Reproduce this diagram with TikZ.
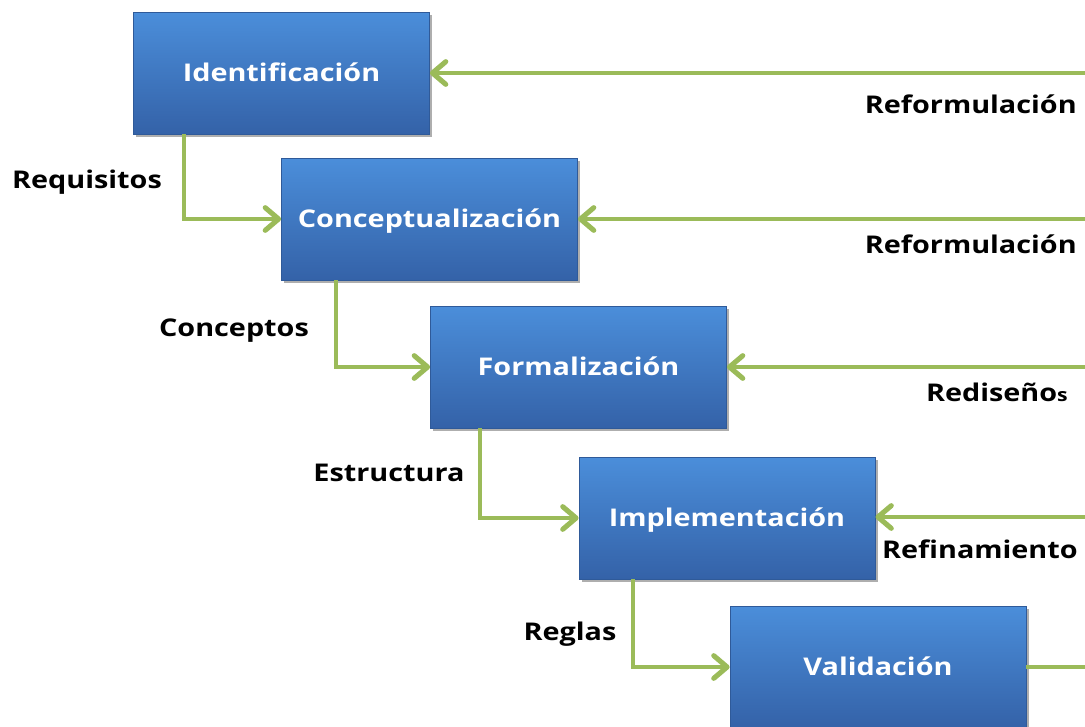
\documentclass[tikz,border=0pt]{standalone}
\usepackage{fontspec}
\setmainfont{Open Sans}
\newfontfamily\widefont[FakeStretch=1.18]{Open Sans}
\usetikzlibrary{arrows.meta,shadows}
\definecolor{boxtop}{HTML}{4B8EDA}
\definecolor{boxbot}{HTML}{3462A8}
\definecolor{boxedge}{HTML}{2F5A99}
\definecolor{arrgreen}{HTML}{9BBB59}
\tikzset{
  stage/.style={rectangle, minimum width=222pt, minimum height=91.5pt, inner sep=0pt,
    text height=13pt, text depth=0pt,
    top color=boxtop, bottom color=boxbot, draw=boxedge, line width=0.6pt,
    drop shadow={shadow xshift=2pt, shadow yshift=-2.5pt, opacity=0.45, fill=black!70},
    text=white, font=\widefont\bfseries\fontsize{18.3}{20}\selectfont},
  flow/.style={draw=arrgreen, line width=3.6pt, -{Straight Barb[length=10pt, width=17pt, line width=3.8pt, round]}},
  plainflow/.style={draw=arrgreen, line width=3.6pt},
  lab/.style={font=\widefont\bfseries\fontsize{18.3}{20}\selectfont, text=black, inner sep=0pt,
    text height=13pt, text depth=0pt}
}
\begin{document}
\begin{tikzpicture}[x=0.75pt, y=-0.75pt]
\useasboundingbox (0,0) rectangle (1085,726);
\fill[white] (0,0) rectangle (1085,726);
\begin{scope}
\clip (0,0) rectangle (1085,726);
\node[stage] (ide) at (281.5,73) {Identificación};
\node[stage] (con) at (429.5,219) {Conceptualización};
\node[stage] (for) at (578.5,367) {Formalización};
\node[stage] (imp) at (727,518) {Implementación};
\node[stage] (val) at (878,667) {Validación};

\coordinate (r1) at (1090,73);
\coordinate (r2) at (1090,219);
\coordinate (r3) at (1090,367);
\coordinate (r4) at (1090,517);
\coordinate (r5) at (1090,667);

\draw[flow] (r1) -- (ide.east);
\draw[flow] (r2) -- (con.east);
\draw[flow] (r3) -- (for.east);
\draw[flow] (r4) -- (imp.east |- r4);
\draw[plainflow] (val.east) -- (r5);

\draw[flow] (ide.south -| 184,0) |- (con.west);
\draw[flow] (con.south -| 336,0) |- (for.west);
\draw[flow] (for.south -| 480,0) |- (imp.west);
\draw[flow] (imp.south -| 633,0) |- (val.west);
\end{scope}

\node[lab] (l1) at (87,180) {Requisitos};
\node[lab] (l2) at (234,328) {Conceptos};
\node[lab] (l3) at (389,473) {Estructura};
\node[lab] (l4) at (570,632) {Reglas};
\node[lab, anchor=east] (l5) at (1077,105) {Reformulación};
\node[lab, anchor=east] (l6) at (1077,245) {Reformulación};
\node[lab, anchor=east] (l7) at (1068,393) {Rediseño{\fontsize{13.5}{15}\selectfont s}};
\node[lab, anchor=east] (l8) at (1078,550) {Refinamiento};
\end{tikzpicture}
\end{document}
